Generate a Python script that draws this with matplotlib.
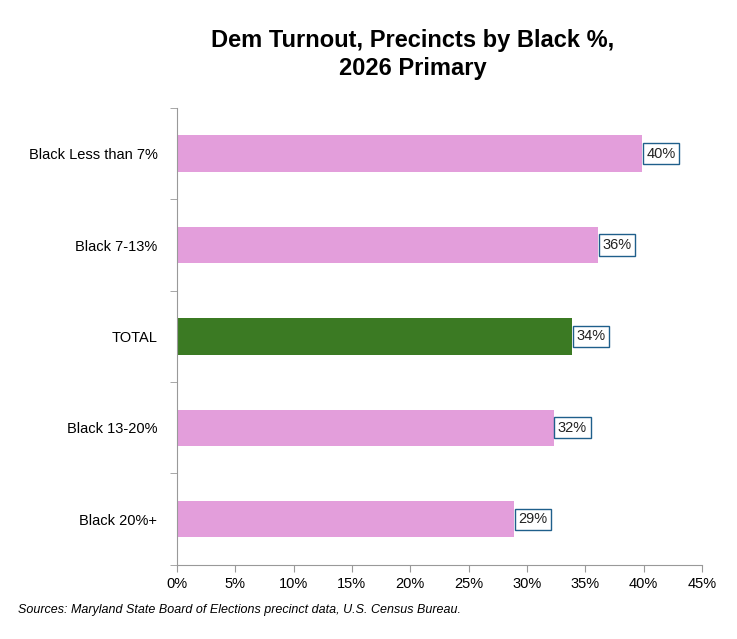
import matplotlib.pyplot as plt
from matplotlib.ticker import PercentFormatter

categories = ["Black Less than 7%", "Black 7-13%", "TOTAL", "Black 13-20%", "Black 20%+"]
turnout = [39.9, 36.1, 33.9, 32.3, 28.9]
labels = ["40%", "36%", "34%", "32%", "29%"]
colors = ["#e39edb", "#e39edb", "#3b7a23", "#e39edb", "#e39edb"]

plt.rcParams["font.family"] = ["Liberation Sans", "DejaVu Sans"]

fig = plt.figure(figsize=(7.37, 6.39), dpi=100)
ax = fig.add_axes([0.240, 0.116, 0.7125, 0.715])

ypos = list(range(len(categories)))[::-1]
ax.barh(ypos, turnout, height=0.4, color=colors)
for y, v, lab in zip(ypos, turnout, labels):
    ax.text(v + 0.35, y, lab, va="center", ha="left", fontsize=10.5, color="#222222",
            bbox=dict(boxstyle="square,pad=0.25", fc="white", ec="#1f5f8b", lw=1))

ax.set_ylim(-0.5, len(categories) - 0.5)
ax.set_yticks(ypos)
ax.set_yticklabels(categories, fontsize=10.5)
ax.set_yticks([y - 0.5 for y in range(len(categories) + 1)], minor=True)
ax.tick_params(axis="y", which="major", length=0, pad=14)
ax.tick_params(axis="y", which="minor", length=5, color="#999999")
ax.set_xlim(0, 45)
ax.set_xticks(range(0, 46, 5))
ax.xaxis.set_major_formatter(PercentFormatter(decimals=0))
ax.tick_params(axis="x", length=5, color="#999999", labelsize=10.5)
for s in ["top", "right"]:
    ax.spines[s].set_visible(False)
for s in ["left", "bottom"]:
    ax.spines[s].set_color("#999999")

fig.text(0.56, 0.915, "Dem Turnout, Precincts by Black %,\n2026 Primary", ha="center", va="center",
         fontsize=17, fontweight="bold", linespacing=1.3)
fig.text(0.025, 0.04, "Sources: Maryland State Board of Elections precinct data, U.S. Census Bureau.",
         fontsize=9, style="italic")

fig.savefig("out.png", dpi=100)
